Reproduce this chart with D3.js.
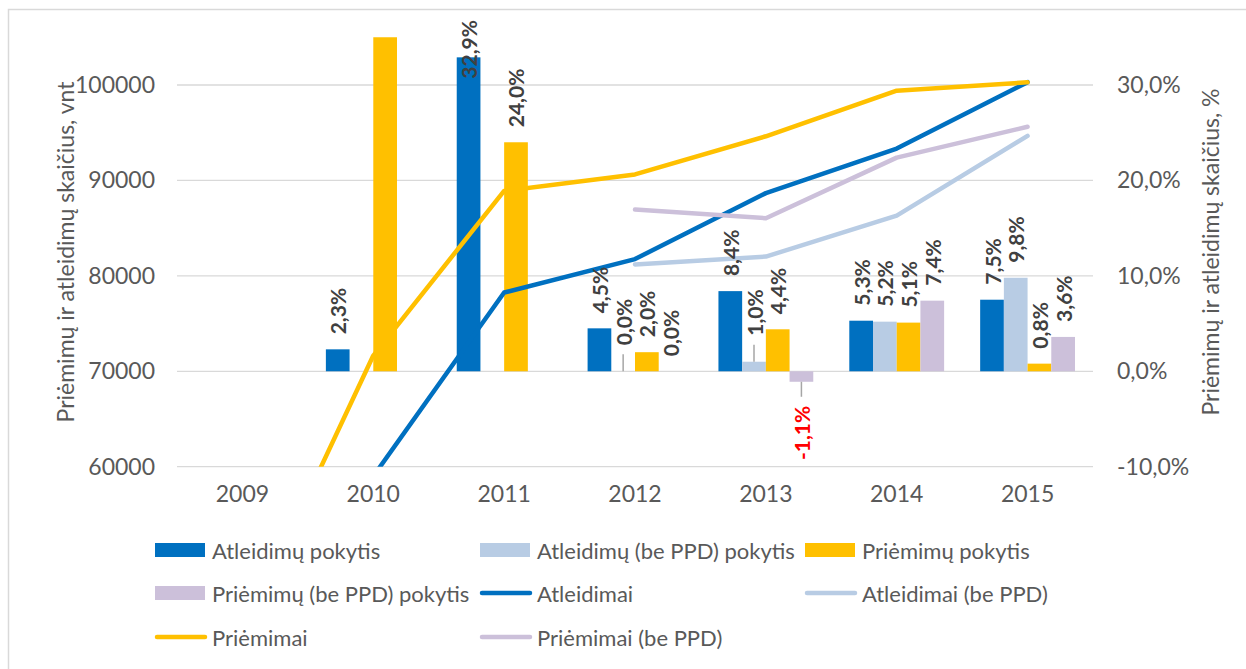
<!DOCTYPE html>
<html>
<head>
<meta charset="utf-8">
<script src="https://cdn.jsdelivr.net/npm/d3@7"></script>
<style>
  body { margin: 0; background: #fff; }
  svg { display: block; font-family: Lato, "Open Sans", sans-serif; }
</style>
</head>
<body>
<div id="chart"></div>
<script>
// Duomenys
const years = ['2009', '2010', '2011', '2012', '2013', '2014', '2015'];
const atleidimuPokytis      = [null, 2.3, 32.9, 4.5, 8.4, 5.3, 7.5];
const atleidimuBePPDPokytis = [null, null, null, 0.0, 1.0, 5.2, 9.8];
const priemimuPokytis       = [null, 68.8, 24.0, 2.0, 4.4, 5.1, 0.8];
const priemimuBePPDPokytis  = [null, null, null, 0.0, -1.1, 7.4, 3.6];
const atleidimai     = [57700, 59000, 78250, 81760, 88670, 93340, 100300];
const atleidimaiBePPD = [null, null, null, 81200, 82020, 86320, 94670];
const priemimai      = [42440, 71650, 88900, 90630, 94630, 99410, 100280];
const priemimaiBePPD = [null, null, null, 86950, 86040, 92390, 95620];
const leftTicks = [60000, 70000, 80000, 90000, 100000];
const rightTicks = [-10, 0, 10, 20, 30];

const barSeries = [
    { name: 'Atleidimų pokytis', values: atleidimuPokytis, color: '#0070C0' },
    { name: 'Atleidimų (be PPD) pokytis', values: atleidimuBePPDPokytis, color: '#B8CCE4' },
    { name: 'Priėmimų pokytis', values: priemimuPokytis, color: '#FFC000' },
    { name: 'Priėmimų (be PPD) pokytis', values: priemimuBePPDPokytis, color: '#CCC0DA' }
];
const lineSeries = [
    { name: 'Atleidimai', values: atleidimai, color: '#0070C0' },
    { name: 'Atleidimai (be PPD)', values: atleidimaiBePPD, color: '#B8CCE4' },
    { name: 'Priėmimai', values: priemimai, color: '#FFC000' },
    { name: 'Priėmimai (be PPD)', values: priemimaiBePPD, color: '#CCC0DA' }
];
// etiketės, kurias Excel perkėlė su rodyklės linija
const leaderLabels = new Set(['2012|Atleidimų (be PPD) pokytis', '2013|Atleidimų (be PPD) pokytis', '2013|Priėmimų (be PPD) pokytis']);

const width = 1246, height = 669;
const plot = { left: 177, right: 1093, top: 37.3, bottom: 466.7 };
const textColor = '#595959';

const locale = d3.formatLocale({ decimal: ',', thousands: ' ', grouping: [3], currency: ['', ''], minus: '-' });
const pct = locale.format('.1f');

const svg = d3.select('#chart').append('svg')
    .attr('width', width)
    .attr('height', height);

// rėmelis
svg.append('rect')
    .attr('x', 8.5).attr('y', 9.5)
    .attr('width', 1300).attr('height', 700)
    .attr('fill', 'none')
    .attr('stroke', '#D9D9D9')
    .attr('stroke-width', 1.5);

const x0 = d3.scaleBand().domain(years).range([plot.left, plot.right]);
const x1 = d3.scaleBand().domain(barSeries.map(s => s.name))
    .range([0, x0.bandwidth()]).paddingInner(0).paddingOuter(0.76);
const yLeft = d3.scaleLinear().domain([60000, 105000]).range([plot.bottom, plot.top]);
const yRight = d3.scaleLinear().domain([-10, 35]).range([plot.bottom, plot.top]);

svg.append('clipPath').attr('id', 'clip')
    .append('rect')
    .attr('x', plot.left).attr('y', plot.top)
    .attr('width', plot.right - plot.left).attr('height', plot.bottom - plot.top);

// tinklelis
svg.append('g').selectAll('line')
    .data(leftTicks)
    .enter().append('line')
    .attr('x1', plot.left).attr('x2', plot.right)
    .attr('y1', d => yLeft(d)).attr('y2', d => yLeft(d))
    .attr('stroke', '#D9D9D9')
    .attr('stroke-width', 1.3);

// ašys
const leftAxis = svg.append('g')
    .attr('transform', `translate(${plot.left},0)`)
    .call(d3.axisLeft(yLeft).tickValues(leftTicks).tickSize(0).tickPadding(22).tickFormat(d3.format('d')));
const rightAxis = svg.append('g')
    .attr('transform', `translate(${plot.right},0)`)
    .call(d3.axisRight(yRight).tickValues(rightTicks).tickSize(0).tickPadding(24).tickFormat(d => pct(d) + '%'));
const bottomAxis = svg.append('g')
    .attr('transform', `translate(0,${plot.bottom})`)
    .call(d3.axisBottom(x0).tickSize(0).tickPadding(19));
[leftAxis, rightAxis, bottomAxis].forEach(a => {
    a.select('.domain').remove();
    a.selectAll('text')
        .attr('fill', textColor)
        .attr('font-size', '23px')
        .attr('font-family', 'Lato, sans-serif');
});

// ašių pavadinimai
svg.append('text')
    .attr('transform', `translate(65,${(plot.top + plot.bottom) / 2}) rotate(-90)`)
    .attr('text-anchor', 'middle')
    .attr('dominant-baseline', 'central')
    .attr('fill', textColor)
    .attr('font-size', '23px')
    .text('Priėmimų ir atleidimų skaičius, vnt');
svg.append('text')
    .attr('transform', `translate(1210,${(plot.top + plot.bottom) / 2}) rotate(-90)`)
    .attr('text-anchor', 'middle')
    .attr('dominant-baseline', 'central')
    .attr('fill', textColor)
    .attr('font-size', '23px')
    .text('Priėmimų ir atleidimų skaičius, %');

// stulpeliai
const plotArea = svg.append('g').attr('clip-path', 'url(#clip)');
const barItems = [];
barSeries.forEach(s => {
    s.values.forEach((v, i) => {
        if (v === null) return;
        barItems.push({ year: years[i], series: s.name, value: v, color: s.color });
    });
});

plotArea.selectAll('rect.bar')
    .data(barItems)
    .enter().append('rect')
    .attr('class', 'bar')
    .attr('x', d => x0(d.year) + x1(d.series))
    .attr('width', x1.bandwidth())
    .attr('y', d => yRight(Math.max(0, d.value)))
    .attr('height', d => Math.abs(yRight(d.value) - yRight(0)))
    .attr('fill', d => d.color);

// linijos
const line = d3.line()
    .defined(d => d !== null)
    .x((d, i) => x0(years[i]) + x0.bandwidth() / 2)
    .y(d => yLeft(d));

plotArea.selectAll('path.series')
    .data(lineSeries)
    .enter().append('path')
    .attr('class', 'series')
    .attr('d', d => line(d.values))
    .attr('fill', 'none')
    .attr('stroke', d => d.color)
    .attr('stroke-width', 4.5)
    .attr('stroke-linejoin', 'round')
    .attr('stroke-linecap', 'round');

// stulpelių etiketės
const labelGroup = svg.append('g');
barItems.forEach(d => {
    if (d.value > yRight.domain()[1]) return;
    const cx = x0(d.year) + x1(d.series) + x1.bandwidth() / 2;
    const moved = leaderLabels.has(d.year + '|' + d.series);
    const txt = pct(d.value) + '%';
    const t = labelGroup.append('text')
        .attr('text-anchor', d.value < 0 ? 'end' : 'start')
        .attr('dominant-baseline', 'central')
        .attr('font-weight', 'bold')
        .attr('font-size', '21px')
        .attr('fill', d.value < 0 ? '#FF0000' : '#404040')
        .text(txt);
    const len = t.node().getComputedTextLength();
    let y;
    if (d.value < 0) {
        const base = yRight(d.value);
        y = base + (moved ? 24 : 14);
        if (moved) {
            labelGroup.append('line')
                .attr('x1', cx).attr('x2', cx)
                .attr('y1', base).attr('y2', base + 15)
                .attr('stroke', '#A6A6A6').attr('stroke-width', 1.5);
        }
    } else {
        const top = yRight(d.value);
        y = top - (moved ? 26 : 15);
        y = Math.max(y, 20 + len);
        if (moved) {
            labelGroup.append('line')
                .attr('x1', cx).attr('x2', cx)
                .attr('y1', top - 17).attr('y2', top)
                .attr('stroke', '#A6A6A6').attr('stroke-width', 1.5);
        }
    }
    t.attr('transform', `translate(${cx},${y}) rotate(-90)`);
});

// legenda
const legendItems = [
    { name: barSeries[0].name, color: barSeries[0].color, type: 'bar' },
    { name: barSeries[1].name, color: barSeries[1].color, type: 'bar' },
    { name: barSeries[2].name, color: barSeries[2].color, type: 'bar' },
    { name: barSeries[3].name, color: barSeries[3].color, type: 'bar' },
    { name: lineSeries[0].name, color: lineSeries[0].color, type: 'line' },
    { name: lineSeries[1].name, color: lineSeries[1].color, type: 'line' },
    { name: lineSeries[2].name, color: lineSeries[2].color, type: 'line' },
    { name: lineSeries[3].name, color: lineSeries[3].color, type: 'line' }
];
const colX = [155, 480, 805];
const rowY = [550, 593, 637];
const legend = svg.append('g').selectAll('g')
    .data(legendItems)
    .enter().append('g')
    .attr('transform', (d, i) => `translate(${colX[i % 3]},${rowY[Math.floor(i / 3)]})`);
legend.filter(d => d.type === 'bar').append('rect')
    .attr('x', 0).attr('y', -7)
    .attr('width', 50).attr('height', 14)
    .attr('fill', d => d.color);
legend.filter(d => d.type === 'line').append('line')
    .attr('x1', 2).attr('x2', 50)
    .attr('y1', 0).attr('y2', 0)
    .attr('stroke', d => d.color)
    .attr('stroke-width', 4.5)
    .attr('stroke-linecap', 'round');
legend.append('text')
    .attr('x', 57)
    .attr('dominant-baseline', 'central')
    .attr('fill', textColor)
    .attr('font-size', '22px')
    .text(d => d.name);
</script>
</body>
</html>
